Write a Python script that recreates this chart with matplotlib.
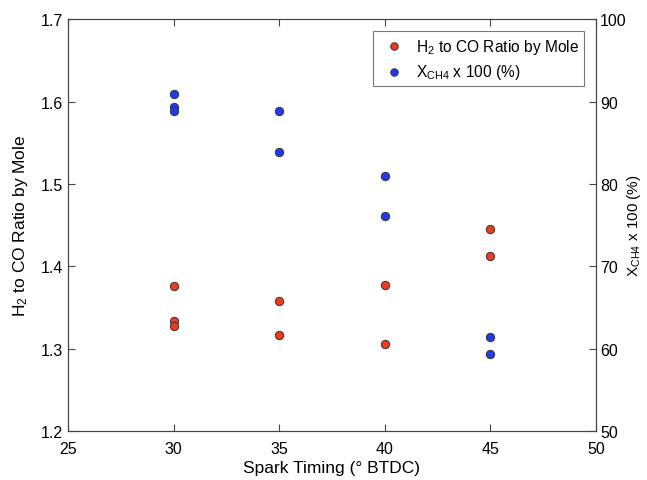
import matplotlib.pyplot as plt

plt.rcParams['font.family'] = ['Liberation Sans', 'DejaVu Sans']
plt.rcParams['mathtext.default'] = 'regular'

# spark timing (deg BTDC)
timing_h2 = [30, 30, 30, 35, 35, 40, 40, 45, 45]
h2_co_ratio = [1.376, 1.333, 1.327, 1.358, 1.317, 1.377, 1.306, 1.445, 1.412]

timing_ch4 = [30, 30, 30, 35, 35, 40, 40, 45, 45]
x_ch4 = [90.9, 89.3, 88.8, 88.8, 83.9, 80.9, 76.1, 61.4, 59.3]

red = '#f03a1f'
blue = '#1f3af0'

fig = plt.figure(figsize=(6.47, 4.81), dpi=100)
ax = fig.add_axes([0.105, 0.102, 0.816, 0.856])
ax2 = ax.twinx()

p1 = ax.scatter(timing_h2, h2_co_ratio, s=36, color=red, edgecolor='#333333',
                linewidth=0.7, zorder=3, label='H$_2$ to CO Ratio by Mole')
p2 = ax2.scatter(timing_ch4, x_ch4, s=36, color=blue, edgecolor='#333333',
                 linewidth=0.7, zorder=3, label='X$_{CH4}$ x 100 (%)')

ax.set_xlim(25, 50)
ax.set_ylim(1.2, 1.7)
ax2.set_ylim(50, 100)
ax.set_xticks([25, 30, 35, 40, 45, 50])
ax.set_yticks([1.2, 1.3, 1.4, 1.5, 1.6, 1.7])
ax2.set_yticks([50, 60, 70, 80, 90, 100])

for a in (ax, ax2):
    for s in a.spines.values():
        s.set_color('#444444')
        s.set_linewidth(0.8)
    a.tick_params(direction='in', labelsize=11.5, color='#444444', length=5)
ax.tick_params(axis='x', top=True, pad=7)
ax2.tick_params(axis='y', pad=3)

ax.set_xlabel('Spark Timing (° BTDC)', fontsize=12.5, labelpad=3)
ax.set_ylabel('H$_2$ to CO Ratio by Mole', fontsize=12.5, labelpad=8)
ax2.set_ylabel('X$_{CH4}$ x 100 (%)', fontsize=11, labelpad=-1)

leg = ax.legend([p1, p2], [p1.get_label(), p2.get_label()], loc='upper right',
                bbox_to_anchor=(0.993, 0.99), fontsize=11.2, fancybox=False,
                edgecolor='#555555', handletextpad=0.4, borderpad=0.35,
                labelspacing=0.4, markerscale=0.9)
leg.get_frame().set_linewidth(0.8)

fig.savefig('out.png', dpi=100)
